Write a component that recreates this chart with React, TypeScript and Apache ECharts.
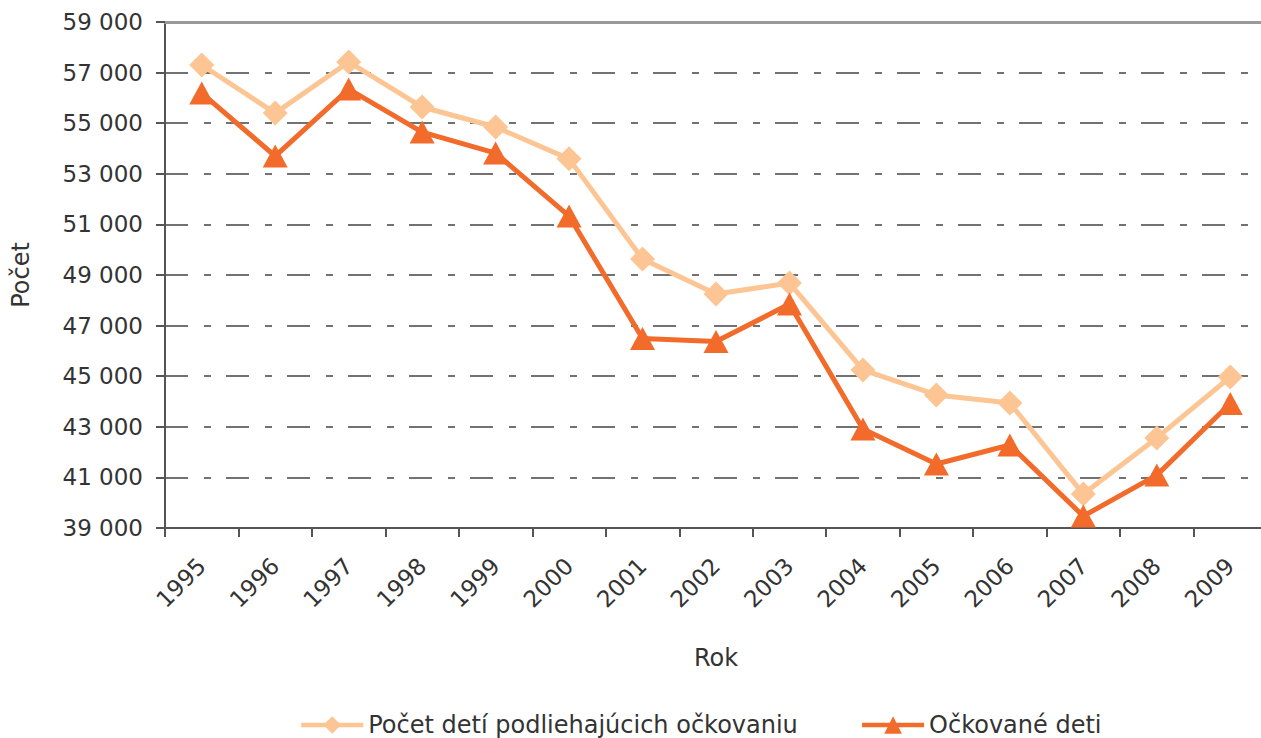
import React, { useEffect, useRef } from "react";
import * as echarts from "echarts";

const years = ["1995","1996","1997","1998","1999","2000","2001","2002","2003","2004","2005","2006","2007","2008","2009"];
const subjectToVaccination = [57300,55400,57420,55640,54850,53590,49630,48250,48680,45250,44260,43940,40340,42560,44970];
const vaccinated = [56190,53700,56350,54650,53820,51330,46490,46370,47850,42910,41530,42280,39470,41090,43920];
const seriesNames = ["Počet detí podliehajúcich očkovaniu", "Očkované deti"];
const yMin = 39000;
const yMax = 59000;
const yStep = 2000;

const FONT = "'DejaVu Sans', sans-serif";

export default function App() {
  const ref = useRef<HTMLDivElement>(null);
  useEffect(() => {
    document.body.style.margin = "0";
    document.body.style.overflow = "hidden";
    const chart = echarts.init(ref.current!, null, { renderer: "svg" });
    const axisColor = "#555";
    chart.setOption({
      animation: false,
      textStyle: { fontFamily: FONT },
      grid: { left: 165, top: 22, bottom: 210, right: 0, containLabel: false },
      legend: {
        left: 294,
        top: 708,
        itemWidth: 62,
        itemHeight: 22,
        itemGap: 62,
        lineStyle: { width: 4.5 },
        textStyle: { fontSize: 24, color: "#333", fontFamily: FONT },
        data: seriesNames,
      },
      xAxis: [
        {
          type: "category",
          data: years,
          boundaryGap: true,
          name: "Rok",
          nameLocation: "middle",
          nameGap: 118,
          nameTextStyle: { fontSize: 24, color: "#333" },
          axisLine: { lineStyle: { color: axisColor, width: 2 } },
          axisTick: { show: true, length: 9, lineStyle: { color: axisColor, width: 2 }, alignWithLabel: false },
          axisLabel: { rotate: 45, fontSize: 23, color: "#333", margin: 34 },
        },
        {
          type: "category",
          data: years,
          position: "top",
          axisLine: { show: true, lineStyle: { color: "#999", width: 3 } },
          axisTick: { show: false },
          axisLabel: { show: false },
        },
      ],
      yAxis: {
        type: "value",
        min: yMin,
        max: yMax,
        interval: yStep,
        name: "Počet",
        nameLocation: "middle",
        nameGap: 132,
        nameTextStyle: { fontSize: 24, color: "#333" },
        axisLine: { show: true, lineStyle: { color: axisColor, width: 2 } },
        axisTick: { show: true, length: 9, lineStyle: { color: axisColor, width: 2 } },
        axisLabel: {
          fontSize: 23,
          color: "#333",
          margin: 22,
          formatter: (v: number) => {
            const s = String(v);
            return s.slice(0, s.length - 3) + " " + s.slice(s.length - 3);
          },
        },
        splitLine: {
          show: true,
          lineStyle: { color: "#444", width: 1.5, type: [23, 16, 7, 15] },
        },
      },
      series: [
        {
          name: seriesNames[0],
          type: "line",
          data: subjectToVaccination,
          symbol: "diamond",
          symbolSize: [25, 25],
          lineStyle: { color: "#FCC593", width: 5 },
          itemStyle: { color: "#FCC593" },
          z: 2,
        },
        {
          name: seriesNames[1],
          type: "line",
          data: vaccinated,
          symbol: "triangle",
          symbolSize: [25, 23],
          lineStyle: { color: "#F26B2B", width: 5 },
          itemStyle: { color: "#F26B2B" },
          z: 3,
        },
      ],
    });
    return () => chart.dispose();
  }, []);
  return <div ref={ref} style={{ width: 1267, height: 738 }} />;
}
